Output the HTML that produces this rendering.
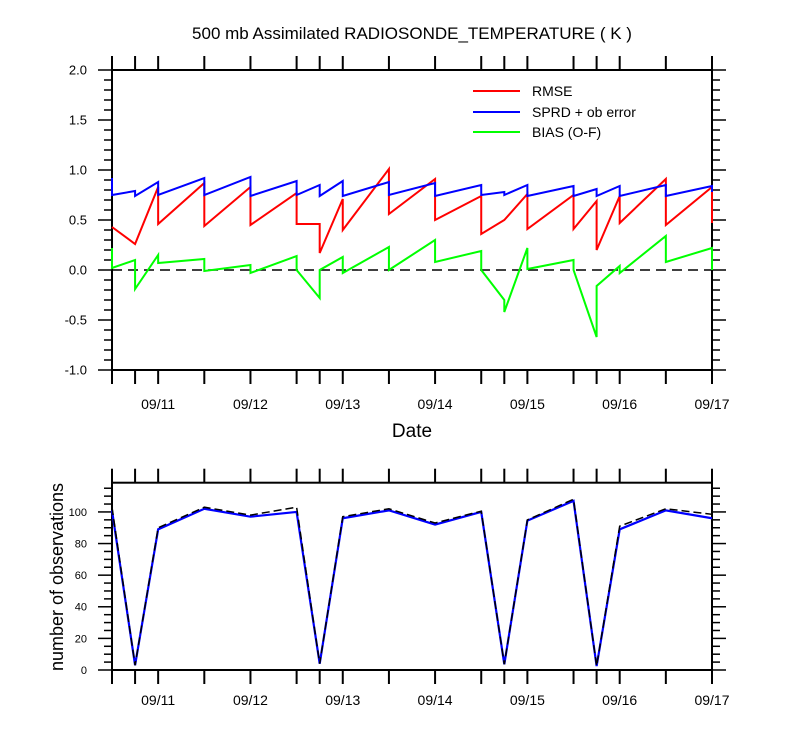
<!DOCTYPE html>
<html><head><meta charset="utf-8"><style>
body{margin:0;background:#fff;}
svg{display:block;font-family:"Liberation Sans",sans-serif;}
</style></head><body>
<svg id="chart" width="800" height="750" viewBox="0 0 800 750" xmlns="http://www.w3.org/2000/svg">
<text x="412" y="39" font-size="17" text-anchor="middle">500 mb Assimilated RADIOSONDE_TEMPERATURE ( K )</text>
<text x="412" y="437" font-size="19" text-anchor="middle">Date</text>
<text transform="translate(63,577) rotate(-90)" font-size="18" text-anchor="middle">number of observations</text>
<g>
<line x1="473" y1="91" x2="520" y2="91" stroke="#ff0000" stroke-width="2"/>
<text x="532" y="96" font-size="14">RMSE</text>
<line x1="473" y1="112" x2="520" y2="112" stroke="#0000ff" stroke-width="2"/>
<text x="532" y="117" font-size="14">SPRD + ob error</text>
<line x1="473" y1="132" x2="520" y2="132" stroke="#00ff00" stroke-width="2"/>
<text x="532" y="137" font-size="14">BIAS (O-F)</text>
</g>
</svg>
<script>
// hours since 09/10 12Z
const times = [0,6,12,24,36,48,54,60,72,84,96,102,108,120,126,132,144,156];
const dateLabels = ["09/11","09/12","09/13","09/14","09/15","09/16","09/17"];
const dateHours = [12,36,60,84,108,132,156];
// value arriving at each time (end of previous segment) and value departing
const rmseEnd   = [0.43,0.26,0.83,0.87,0.83,0.77,0.46,0.71,1.01,0.91,0.74,0.50,0.76,0.75,0.69,0.74,0.91,0.83];
const rmseStart = [0.43,0.26,0.46,0.44,0.45,0.46,0.17,0.40,0.56,0.50,0.36,0.50,0.41,0.41,0.20,0.47,0.45,0.47];
const sprdEnd   = [0.92,0.79,0.88,0.92,0.93,0.89,0.85,0.89,0.88,0.87,0.85,0.78,0.85,0.84,0.81,0.84,0.85,0.84];
const sprdStart = [0.75,0.74,0.75,0.75,0.74,0.75,0.74,0.74,0.75,0.74,0.75,0.75,0.74,0.74,0.74,0.74,0.74,0.78];
const biasEnd   = [0.22,0.10,0.15,0.11,0.05,0.14,-0.28,0.13,0.23,0.30,0.19,-0.30,0.22,0.10,-0.67,0.04,0.34,0.22];
const biasStart = [0.02,-0.19,0.07,-0.01,-0.03,0.00,0.00,-0.03,0.00,0.08,0.00,-0.42,0.01,0.00,-0.16,-0.03,0.08,0.00];
const obsUsed  = [101,3,89,102,97,100,4,96,101,92,100,3.6,94.5,107,2.5,89,101,96];
const obsTotal = [103,3,90,103,98,103,4,97,102,93,100.5,3.6,95,108,2.5,91,102,98.5];
const topYTicks = ["-1.0","-0.5","0.0","0.5","1.0","1.5","2.0"];
const botYTicks = ["0","20","40","60","80","100"];

const NS="http://www.w3.org/2000/svg";
const svg=document.getElementById('chart');
function mk(tag,attrs,parent){const e=document.createElementNS(NS,tag);for(const k in attrs)e.setAttribute(k,attrs[k]);(parent||svg).appendChild(e);return e;}
const X0=112,X1=712;
const xs=h=>X0+(h-0)/156*(X1-X0);
const T={top:70,bot:370,min:-1,max:2};
const ysT=v=>T.bot-(v-T.min)/(T.max-T.min)*(T.bot-T.top);
const B={top:482.7,bot:670,min:0,max:118.5};
const ysB=v=>B.bot-(v-B.min)/(B.max-B.min)*(B.bot-B.top);

function frame(top,bot,name){
  const r=mk('rect',{x:X0,y:top,width:X1-X0,height:bot-top,fill:'none',stroke:'#000','stroke-width':2});
  
  
  times.forEach(h=>{
    const x=xs(h);
    const t1=mk('line',{x1:x,y1:bot,x2:x,y2:bot+14,stroke:'#000','stroke-width':2});
    
    
    const t2=mk('line',{x1:x,y1:top,x2:x,y2:top-14,stroke:'#000','stroke-width':2});
    
    
  });
}
function xLabels(y){
  dateLabels.forEach((l,i)=>{
    const t=mk('text',{x:xs(dateHours[i]),y:y,'font-size':14,'text-anchor':'middle'});
    t.textContent=l;
    
    
  });
}
function yTicks(ys,min,max,minor,major,labels,fs,name){
  for(let v=min;v<=max+1e-9;v+=minor){
    const isMaj=Math.abs(Math.round(v/major)*major-v)<1e-6;
    const y=ys(v);
    const len=isMaj?14:8;
    const a=mk('line',{x1:X0,y1:y,x2:X0-len,y2:y,stroke:'#000','stroke-width':1.5});
    
    
    const b=mk('line',{x1:X1,y1:y,x2:X1+len,y2:y,stroke:'#000','stroke-width':1.5});
    
    
  }
  labels.forEach(l=>{
    const t=mk('text',{x:X0-25,y:ys(parseFloat(l))+fs*0.36,'font-size':fs,'text-anchor':'end'});
    t.textContent=l;
    
    
  });
}
function sawtooth(ends,starts,color,name){
  let d='';
  times.forEach((h,i)=>{
    const x=xs(h);
    d+=(i===0?'M':'L')+x+','+ysT(ends[i])+' L'+x+','+ysT(starts[i])+' ';
  });
  const p=mk('path',{d:d,fill:'none',stroke:color,'stroke-width':2,'stroke-linejoin':'miter'});
  
  
}
function line(vals,color,dash,name,w){
  const d=vals.map((v,i)=>(i?'L':'M')+xs(times[i])+','+ysB(v)).join(' ');
  const p=mk('path',{d:d,fill:'none',stroke:color,'stroke-width':w});
  if(dash)p.setAttribute('stroke-dasharray',dash);
  
  
}

// top plot
frame(T.top,T.bot,'top-plot-frame');
yTicks(ysT,-1,2,0.1,0.5,topYTicks,13,'y-tick-label-top');
xLabels(409);
const zl=mk('line',{x1:X0,y1:ysT(0),x2:X1,y2:ysT(0),stroke:'#000','stroke-width':1.5,'stroke-dasharray':'10,6'});


sawtooth(biasEnd,biasStart,'#00ff00','bias-series');
sawtooth(rmseEnd,rmseStart,'#ff0000','rmse-series');
sawtooth(sprdEnd,sprdStart,'#0000ff','sprd-series');

// bottom plot
frame(B.top,B.bot,'bottom-plot-frame');
yTicks(ysB,0,115,5,20,botYTicks,11,'y-tick-label-bottom');
xLabels(705);
line(obsUsed,'#0000ff',null,'obs-used-series',2.2);
line(obsTotal,'#000',"8,4",'obs-total-series',1.5);
</script>
</body></html>
